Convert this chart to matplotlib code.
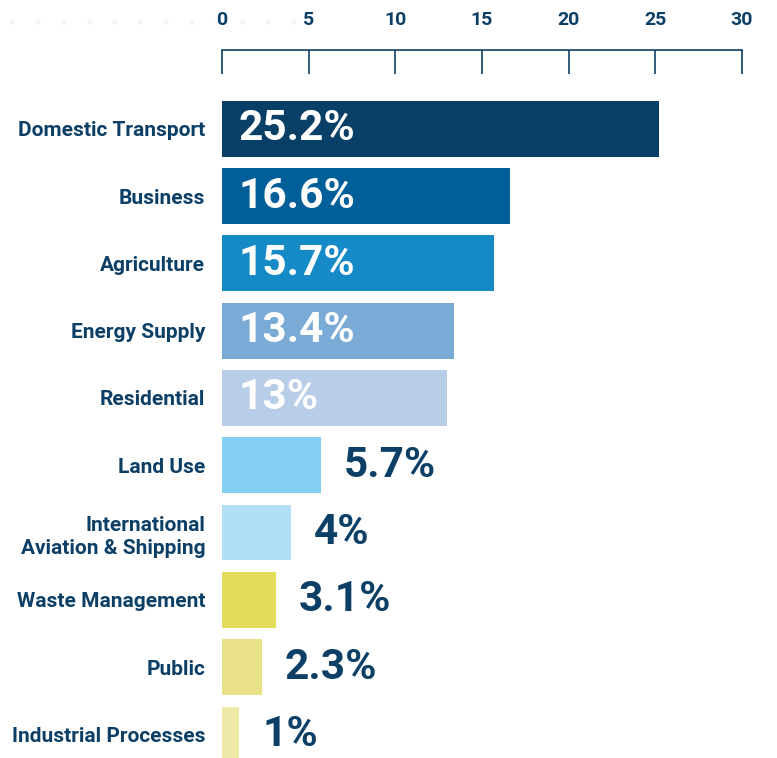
import matplotlib
matplotlib.use("Agg")
import matplotlib.pyplot as plt

# Emissions share by sector (%)
sectors = [
    "Domestic Transport",
    "Business",
    "Agriculture",
    "Energy Supply",
    "Residential",
    "Land Use",
    "International\nAviation & Shipping",
    "Waste Management",
    "Public",
    "Industrial Processes",
]
shares = [25.2, 16.6, 15.7, 13.4, 13, 5.7, 4, 3.1, 2.3, 1]
share_labels = ["25.2%", "16.6%", "15.7%", "13.4%", "13%",
                "5.7%", "4%", "3.1%", "2.3%", "1%"]
bar_colors = ["#073F66", "#005E99", "#168AC7", "#7AAAD6", "#B8CDE8",
              "#83CFF3", "#B0DFF7", "#E3DB5A", "#E8E188", "#EFE9A8"]
x_ticks = [0, 5, 10, 15, 20, 25, 30]

NAVY = "#0C3F66"
W, H = 777, 758

plt.rcParams["font.family"] = ["Roboto", "DejaVu Sans"]

fig = plt.figure(figsize=(W / 100, H / 100), dpi=100)
ax = fig.add_axes([222 / W, 0, (742 - 222) / W, (H - 50) / H])

pos = list(range(len(sectors)))
ax.barh(pos, shares, height=0.83, color=bar_colors)

ax.set_xlim(0, 30)
ax.set_ylim(9.35, -1.17)

# axis on top, ticks hanging down from the line, labels above it
ax.xaxis.set_ticks_position("top")
ax.set_xticks(x_ticks)
ax.tick_params(axis="x", direction="in", length=17, width=1.2, color=NAVY,
               pad=15, labelsize=14, labelcolor=NAVY)
for lbl in ax.get_xticklabels():
    lbl.set_fontweight("bold")

ax.set_yticks(pos)
ax.set_yticklabels(sectors, fontsize=15, fontweight="bold", color=NAVY,
                   linespacing=1.3)
ax.tick_params(axis="y", length=0, pad=12)

for side in ["left", "right", "bottom"]:
    ax.spines[side].set_visible(False)
ax.spines["top"].set_color(NAVY)
ax.spines["top"].set_linewidth(1.2)

# value labels: inside for big bars, outside for small ones
for p, v, txt in zip(pos, shares, share_labels):
    if v > 10:
        ax.annotate(txt, (0, p), xytext=(16, 0), textcoords="offset pixels",
                    ha="left", va="center", fontsize=30.5, fontweight="bold",
                    color="white")
    else:
        ax.annotate(txt, (v, p), xytext=(23, 0), textcoords="offset pixels",
                    ha="left", va="center", fontsize=30.5, fontweight="bold",
                    color=NAVY)

# faint decorative dots in the top-left corner
deco = fig.add_axes([0, 0, 1, 1], zorder=-1)
deco.set_xlim(0, W)
deco.set_ylim(H, 0)
deco.axis("off")
deco.scatter([12 + 25.6 * k for k in range(12)], [22] * 12, s=12,
             color="#F3F3F3", linewidths=0)

fig.savefig("out.png", dpi=100)
